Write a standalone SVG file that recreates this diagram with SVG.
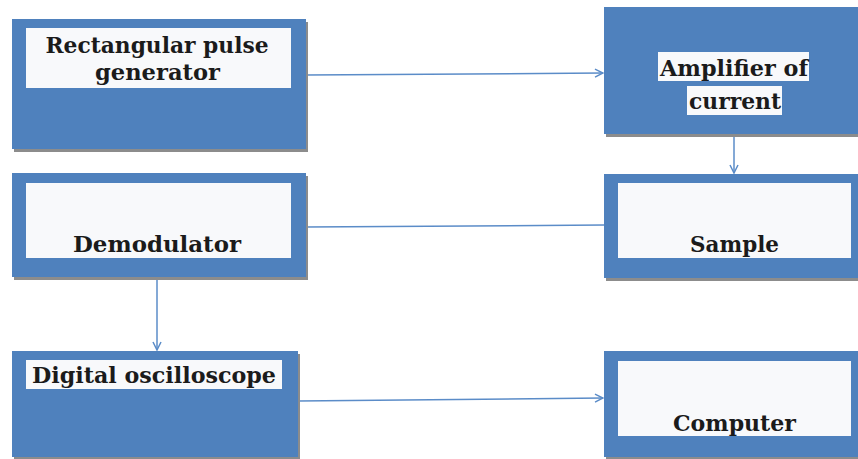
<svg xmlns="http://www.w3.org/2000/svg" width="858" height="459" viewBox="0 0 858 459">
<defs>
<style>
.box{fill:#4F81BD}
.shadow{fill:#8c8c8c}
.inner{fill:#F8F9FB}
.lbl{font-family:"DejaVu Serif","Liberation Serif",serif;font-weight:bold;font-size:23px;fill:#1b1b1b;text-anchor:middle}
.conn{stroke:#5b8cc8;stroke-width:1.5;fill:none}
</style>
<marker id="arr" viewBox="0 0 10 10" refX="9" refY="5" markerWidth="10" markerHeight="10" markerUnits="userSpaceOnUse" orient="auto">
<polyline points="1,1 9,5 1,9" fill="none" stroke="#5b8cc8" stroke-width="1.5"/>
</marker>
</defs>
<rect width="858" height="459" fill="#ffffff"/>
<g id="connectors">
<line class="conn" x1="306" y1="75" x2="603" y2="73" marker-end="url(#arr)"/>
<line class="conn" x1="734" y1="135" x2="734" y2="173" marker-end="url(#arr)"/>
<line class="conn" x1="306" y1="227" x2="604" y2="225"/>
<line class="conn" x1="157" y1="278" x2="157" y2="350" marker-end="url(#arr)"/>
<line class="conn" x1="298" y1="401" x2="603" y2="398" marker-end="url(#arr)"/>
</g>
<g id="rect-pulse-generator">
<rect class="shadow" x="14" y="22" width="294" height="130"/>
<rect class="box" x="12" y="19" width="294" height="130"/>
<rect class="inner" x="26" y="28" width="265" height="60"/>
<text class="lbl" x="157" y="53" textLength="223" lengthAdjust="spacingAndGlyphs">Rectangular pulse</text>
<text class="lbl" x="157.5" y="80" textLength="125" lengthAdjust="spacingAndGlyphs">generator</text>
</g>
<g id="amplifier">
<rect class="shadow" x="606" y="10" width="260" height="127"/>
<rect class="box" x="604" y="7" width="260" height="127"/>
<rect fill="#F8F9FB" x="658" y="52" width="151" height="29"/>
<rect fill="#F8F9FB" x="687" y="86" width="95" height="29"/>
<text class="lbl" x="734" y="76" textLength="148" lengthAdjust="spacingAndGlyphs">Amplifier of</text>
<text class="lbl" x="735" y="109" textLength="92" lengthAdjust="spacingAndGlyphs">current</text>
</g>
<g id="demodulator">
<rect class="shadow" x="14" y="176" width="294" height="104"/>
<rect class="box" x="12" y="173" width="294" height="104"/>
<rect class="inner" x="26" y="183" width="265" height="75"/>
<text class="lbl" x="157" y="252" textLength="168" lengthAdjust="spacingAndGlyphs">Demodulator</text>
</g>
<g id="sample">
<rect class="shadow" x="606" y="177" width="260" height="104"/>
<rect class="box" x="604" y="174" width="260" height="104"/>
<rect class="inner" x="618" y="183" width="233" height="75"/>
<text class="lbl" x="734.5" y="252" textLength="89" lengthAdjust="spacingAndGlyphs">Sample</text>
</g>
<g id="digital-oscilloscope">
<rect class="shadow" x="14" y="354" width="286" height="106"/>
<rect class="box" x="12" y="351" width="286" height="106"/>
<rect class="inner" x="26" y="360" width="256" height="29"/>
<text class="lbl" x="154" y="383" textLength="244" lengthAdjust="spacingAndGlyphs">Digital oscilloscope</text>
</g>
<g id="computer">
<rect class="shadow" x="606" y="354" width="260" height="106"/>
<rect class="box" x="604" y="351" width="260" height="106"/>
<rect class="inner" x="618" y="361" width="233" height="75"/>
<text class="lbl" x="734.5" y="431" textLength="123" lengthAdjust="spacingAndGlyphs">Computer</text>
</g>
</svg>
